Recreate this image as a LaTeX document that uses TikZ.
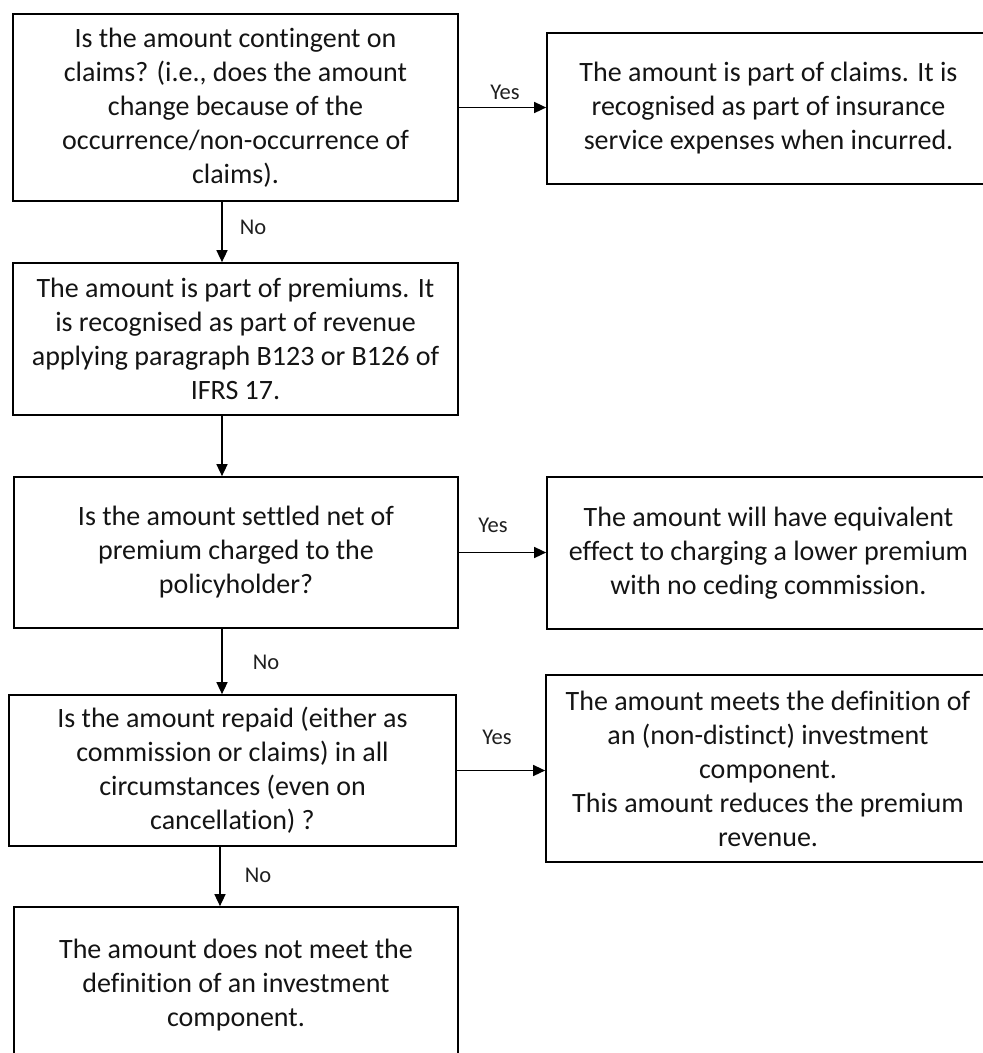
\documentclass[tikz,border=0pt]{standalone}
\usepackage{fontspec}
\setmainfont{Carlito}[Ligatures=NoCommon]
\usetikzlibrary{arrows.meta}
\tikzset{
  x=1pt,y=-1pt,
  box/.style={draw=black, line width=1.7pt, rectangle, align=center, inner sep=0pt,
    text=black!92, font=\fontsize{28}{34}\selectfont},
  lbl/.style={text=black!88, font=\fontsize{22.5}{26}\selectfont, inner sep=0pt},
  arr/.style={draw=black, line width=1.5pt, -{Triangle[length=12pt,width=11pt]}}
}
\begin{document}
\begin{tikzpicture}
\path[use as bounding box] (0,0) rectangle (983,1053);
\clip (0,0) rectangle (983,1053);
\node[box, minimum width=445pt, minimum height=187pt] (b1) at (235.5,107.5)
  {Is the amount contingent on\\ claims? (i.e., does the amount\\ change because of the\\ occurrence/non-occurrence of\\ claims).};
\node[box, minimum width=443pt, minimum height=151pt] (r1) at (768.5,108.5)
  {The amount is part of claims. It is\\ recognised as part of insurance\\ service expenses when incurred.};
\node[box, minimum width=445pt, minimum height=152pt] (b2) at (235.5,339)
  {The amount is part of premiums. It\\ is recognised as part of revenue\\ applying paragraph B123 or B126 of\\ IFRS 17.};
\node[box, minimum width=444pt, minimum height=151pt] (b3) at (236,552.5)
  {Is the amount settled net of\\ premium charged to the\\ policyholder?};
\node[box, minimum width=443pt, minimum height=152pt] (r2) at (768.5,553)
  {The amount will have equivalent\\ effect to charging a lower premium\\ with no ceding commission.};
\node[box, minimum width=447pt, minimum height=151pt] (b4) at (232.5,770.5)
  {Is the amount repaid (either as\\ commission or claims) in all\\ circumstances (even on\\ cancellation) ?};
\node[box, minimum width=444pt, minimum height=187pt] (r3) at (768,768.5)
  {The amount meets the definition of\\ an (non-distinct) investment\\ component.\\ This amount reduces the premium\\ revenue.};
\node[box, minimum width=444pt, minimum height=156pt] (b5) at (236,985)
  {The amount does not meet the\\ definition of an investment\\ component.};

\coordinate (c1) at (222,0);
\coordinate (c2) at (220,0);
\draw[arr] (b1.south -| c1) -- (b2.north -| c1);
\draw[arr] (b2.south -| c1) -- (b3.north -| c1);
\draw[arr] (b3.south -| c1) -- (b4.north -| c1);
\draw[arr] (b4.south -| c2) -- (b5.north -| c2);
\draw[arr] (b1.east) -- (b1.east -| r1.west);
\draw[arr] (b3.east) -- (b3.east -| r2.west);
\draw[arr] (b4.east) -- (b4.east -| r3.west);

\node[lbl] (y1) at (505,92) {Yes};
\node[lbl] (y2) at (493,525) {Yes};
\node[lbl] (y3) at (497,737) {Yes};
\node[lbl] (n1) at (253,227) {No};
\node[lbl] (n2) at (266,662) {No};
\node[lbl] (n3) at (258,875) {No};
\end{tikzpicture}
\end{document}
